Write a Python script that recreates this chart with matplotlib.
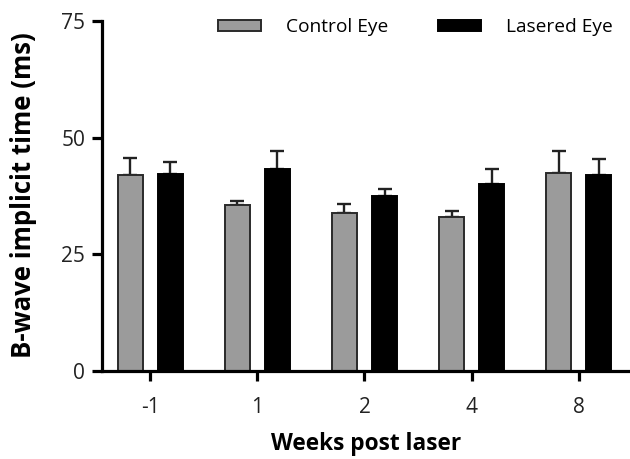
import matplotlib
matplotlib.use("Agg")
import matplotlib.pyplot as plt
import numpy as np
from matplotlib.patches import Patch

weeks = ["-1", "1", "2", "4", "8"]
control_mean = [42.1, 35.5, 33.9, 33.0, 42.4]
control_err = [3.5, 0.9, 1.9, 1.2, 4.7]
lasered_mean = [42.2, 43.3, 37.4, 40.0, 41.9]
lasered_err = [2.6, 3.9, 1.5, 3.2, 3.6]
series_names = ["Control Eye", "Lasered Eye"]
yticks = [0, 25, 50, 75]

plt.rcParams['font.family'] = ['Open Sans', 'DejaVu Sans']

W, H = 630, 459
fig = plt.figure(figsize=(W / 100, H / 100), dpi=100)
ax = fig.add_axes([102 / W, (H - 371) / H, (630 - 102) / W, (371 - 21) / H])

x = np.arange(len(weeks))
bw = 0.234
off = 0.187
ax.bar(x - off, control_mean, width=bw, color="#9b9b9b", edgecolor="#2a2a2a",
       linewidth=1.4, zorder=2)
ax.bar(x + off, lasered_mean, width=bw, color="black", edgecolor="black",
       linewidth=1.4, zorder=2)
ax.errorbar(x - off, control_mean, yerr=[np.zeros(len(x)), control_err], fmt="none",
            ecolor="#222222", elinewidth=1.7, capsize=4.7, capthick=1.7, zorder=1)
ax.errorbar(x + off, lasered_mean, yerr=[np.zeros(len(x)), lasered_err], fmt="none",
            ecolor="#222222", elinewidth=1.7, capsize=4.7, capthick=1.7, zorder=1)

ax.set_xlim(-0.449, 4.477)
ax.set_ylim(0, 75)
ax.set_yticks(yticks)
ax.set_xticks(x)
ax.set_xticklabels(weeks)
for s in ["top", "right"]:
    ax.spines[s].set_visible(False)
for s in ["left", "bottom"]:
    ax.spines[s].set_linewidth(2.3)
ax.tick_params(axis="both", width=2.3, length=7, labelsize=15, colors="black",
               labelcolor="#222222", pad=5)
ax.tick_params(axis="x", pad=12)

fig.text(24 / W, 1 - 195 / H, "B-wave implicit time (ms)", rotation=90,
         ha="center", va="center", fontsize=18.5, fontweight="bold")
fig.text(366 / W, 1 - 444 / H, "Weeks post laser", ha="center", va="center",
         fontsize=16.3, fontweight="bold")

handles = [Patch(facecolor="#9b9b9b", edgecolor="#2a2a2a", linewidth=1.4),
           Patch(facecolor="black", edgecolor="black", linewidth=1.4)]
fig.legend(handles, series_names, loc="center left",
           bbox_to_anchor=(218 / W, 1 - 27 / H), ncol=2, frameon=False,
           fontsize=13.8, handlelength=2.24, handleheight=0.52, handletextpad=1.3,
           columnspacing=2.6, borderpad=0, borderaxespad=0)

fig.savefig("out.png", dpi=100)
